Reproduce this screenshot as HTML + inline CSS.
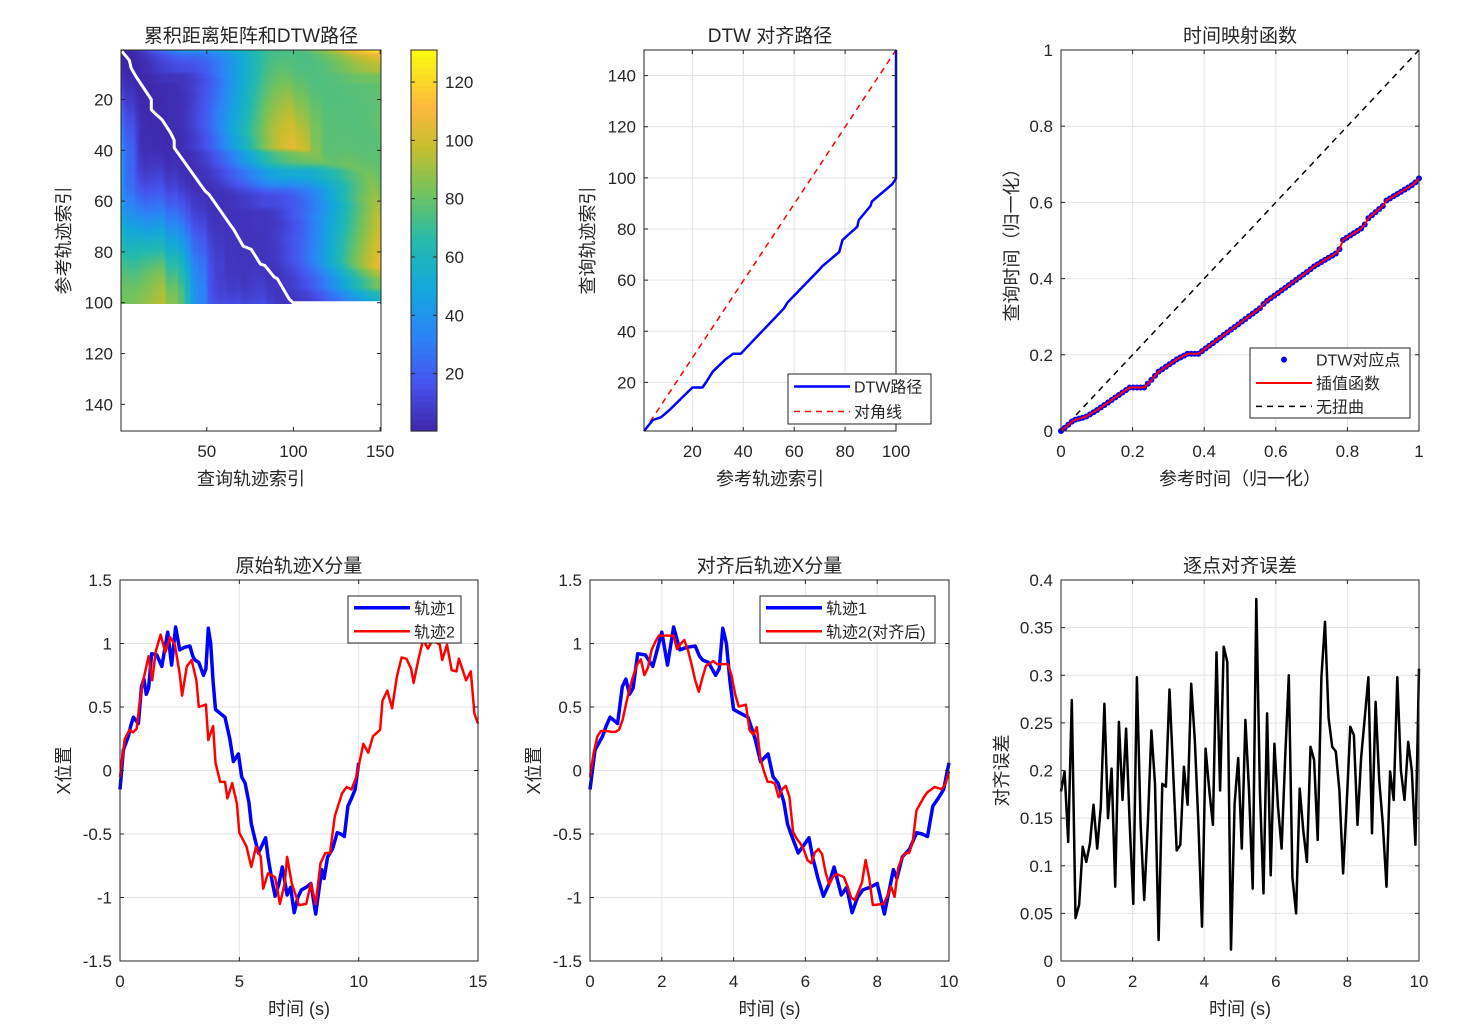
<!DOCTYPE html>
<html><head><meta charset="utf-8">
<style>
body{margin:0;background:#fff;}
#wrap{position:relative;width:1466px;height:1036px;overflow:hidden;}
svg{position:absolute;left:0;top:0;}
text{font-family:"Liberation Sans","Noto Sans CJK SC",sans-serif;fill:#262626;}
</style></head>
<body>
<div id="wrap">
<canvas id="hm" width="150" height="100" style="position:absolute;left:121px;top:50px;width:260px;height:254px;"></canvas>
<svg id="svg" width="1466" height="1036"></svg>
</div>
<script>
// ---- data ----
const traj1T=[0,0.14,0.35,0.45,0.56,0.77,0.9,1.0,1.1,1.2,1.33,1.54,1.75,1.9,2.0,2.16,2.33,2.5,2.7,2.93,3.05,3.14,3.3,3.5,3.6,3.7,3.8,3.9,4.0,4.2,4.4,4.6,4.75,4.96,5.1,5.24,5.4,5.5,5.6,5.8,6.1,6.2,6.35,6.5,6.65,6.8,7.0,7.15,7.3,7.45,7.6,7.8,8.0,8.2,8.45,8.55,8.7,8.9,9.1,9.25,9.4,9.55,9.7,9.85,10];
const traj1V=[-0.15,0.16,0.27,0.35,0.42,0.37,0.66,0.72,0.6,0.65,0.92,0.91,0.82,0.98,1.09,0.83,1.13,0.95,0.97,0.98,0.9,0.87,0.85,0.75,0.8,1.12,1.0,0.7,0.48,0.45,0.42,0.25,0.07,0.13,-0.05,-0.1,-0.25,-0.42,-0.5,-0.65,-0.53,-0.68,-0.85,-0.99,-0.9,-0.76,-0.98,-0.92,-1.12,-1.0,-0.94,-0.92,-0.89,-1.13,-0.78,-0.85,-0.68,-0.62,-0.49,-0.5,-0.52,-0.28,-0.22,-0.15,0.06];
const traj2T=[0,0.2,0.4,0.55,0.7,0.8,0.95,1.2,1.35,1.5,1.7,1.9,2.1,2.3,2.5,2.6,2.8,3.0,3.2,3.3,3.6,3.7,3.9,4.0,4.2,4.4,4.5,4.7,4.9,5.0,5.3,5.5,5.7,5.9,6.0,6.2,6.5,6.7,6.9,7.0,7.2,7.5,7.8,8.0,8.2,8.4,8.6,8.8,9.0,9.3,9.5,9.7,9.9,10.2,10.4,10.6,10.9,11.0,11.2,11.4,11.6,11.8,12.0,12.2,12.3,12.5,12.7,12.9,13.1,13.4,13.5,13.7,13.9,14.1,14.2,14.5,14.7,14.85,15];
const traj2V=[-0.05,0.25,0.32,0.3,0.33,0.5,0.69,0.9,0.71,0.94,1.07,0.93,1.05,0.99,0.76,0.59,0.82,0.87,0.71,0.5,0.52,0.24,0.35,0.06,-0.09,-0.09,-0.22,-0.1,-0.26,-0.49,-0.6,-0.76,-0.6,-0.68,-0.93,-0.81,-0.84,-1.05,-0.89,-0.68,-0.89,-1.06,-1.05,-0.89,-1.05,-0.73,-0.65,-0.65,-0.36,-0.18,-0.13,-0.15,-0.05,0.21,0.14,0.27,0.32,0.55,0.63,0.49,0.74,0.89,0.88,0.8,0.69,0.87,1.03,0.96,1.03,0.99,0.87,0.99,0.79,0.78,0.88,0.71,0.78,0.45,0.37];
const pathRef=[1,4.5,7.7,11,20,24,26,28,33,36,39,56,57.4,69.8,71,77.7,79,84.8,85.4,90,90.5,98.6,100,100];
const pathQuery=[1,5.3,6.4,9.2,18,18,21,24.2,29,31.2,31.2,49,51.3,64,65.4,71,75.7,80.9,83.5,89,90.7,97.6,99.8,150];
const errV=[0.178,0.199,0.125,0.274,0.045,0.059,0.12,0.104,0.123,0.164,0.118,0.162,0.27,0.15,0.202,0.078,0.251,0.169,0.244,0.144,0.06,0.298,0.144,0.064,0.144,0.242,0.186,0.022,0.186,0.183,0.285,0.2,0.116,0.122,0.204,0.164,0.291,0.232,0.144,0.036,0.223,0.179,0.143,0.324,0.179,0.33,0.314,0.012,0.165,0.213,0.118,0.253,0.179,0.076,0.38,0.179,0.071,0.26,0.09,0.228,0.162,0.118,0.214,0.3,0.088,0.05,0.181,0.137,0.104,0.225,0.211,0.127,0.298,0.356,0.255,0.225,0.22,0.179,0.092,0.165,0.246,0.237,0.143,0.213,0.256,0.298,0.134,0.272,0.19,0.144,0.078,0.199,0.169,0.298,0.2,0.169,0.23,0.2,0.122,0.307];
const cbTicks=[20,40,60,80,100,120];
const colorLimits=[0.3,131];
const costScale=[1.25];

const NS='http://www.w3.org/2000/svg';
const svg=document.getElementById('svg');
function el(tag,attrs,parent,name){const e=document.createElementNS(NS,tag);for(const k in attrs)e.setAttribute(k,attrs[k]);(parent||svg).appendChild(e);


return e;}
function txt(x,y,s,opt,name){opt=opt||{};const t=el('text',{x:x,y:y,'font-size':opt.size||17,'text-anchor':opt.anchor||'middle'},opt.parent,name||'label');if(opt.rot)t.setAttribute('transform','rotate(-90 '+x+' '+y+')');t.textContent=s;return t;}
function interp(xs,ys,x){if(x<=xs[0])return ys[0];for(let i=1;i<xs.length;i++){if(x<=xs[i]){const f=(x-xs[i-1])/(xs[i]-xs[i-1]||1);return ys[i-1]+f*(ys[i]-ys[i-1]);}}return ys[ys.length-1];}
function fmt(v){return String(Math.round(v*1000)/1000);}

function axes(b){
  const g=el('g',{},svg,b.name);
  b.sx=v=>b.x0+(v-b.xd[0])/(b.xd[1]-b.xd[0])*(b.x1-b.x0);
  b.sy=b.yrev?(v=>b.y0+(v-b.yd[0])/(b.yd[1]-b.yd[0])*(b.y1-b.y0)):(v=>b.y1-(v-b.yd[0])/(b.yd[1]-b.yd[0])*(b.y1-b.y0));
  if(b.grid){
    b.xt.forEach(v=>el('line',{x1:b.sx(v),x2:b.sx(v),y1:b.y0,y2:b.y1,stroke:'#e3e3e3','stroke-width':1},g,'x-grid-line'));
    b.yt.forEach(v=>el('line',{y1:b.sy(v),y2:b.sy(v),x1:b.x0,x2:b.x1,stroke:'#e3e3e3','stroke-width':1},g,'y-grid-line'));
  }
  b.g=g;b.top=el('g',{},svg,b.name+'-frame');
  return b;
}
function frame(b){
  const g=b.top;
  el('rect',{x:b.x0,y:b.y0,width:b.x1-b.x0,height:b.y1-b.y0,fill:'none',stroke:'#262626','stroke-width':1},g,'axes-box');
  b.xt.forEach(v=>{const x=b.sx(v);el('line',{x1:x,x2:x,y1:b.y1,y2:b.y1-4,stroke:'#262626'},g,'x-tick');el('line',{x1:x,x2:x,y1:b.y0,y2:b.y0+4,stroke:'#262626'},g,'x-tick');
    txt(x,b.y1+26,fmt(v),{parent:g},'x-tick-label');});
  b.yt.forEach(v=>{const y=b.sy(v);el('line',{y1:y,y2:y,x1:b.x0,x2:b.x0+4,stroke:'#262626'},g,'y-tick');el('line',{y1:y,y2:y,x1:b.x1,x2:b.x1-4,stroke:'#262626'},g,'y-tick');
    txt(b.x0-8,y+6,fmt(v),{parent:g,anchor:'end'},'y-tick-label');});
  txt((b.x0+b.x1)/2,b.y0-8,b.title,{parent:g,size:19},'axes-title');
  txt((b.x0+b.x1)/2,b.y1+54,b.xl,{parent:g,size:18},'x-axis-title');
  txt(b.ylx,(b.y0+b.y1)/2,b.yl,{parent:g,size:18,rot:true},'y-axis-title');
}
function poly(b,xs,ys,attrs,name){const p=xs.map((x,i)=>b.sx(x).toFixed(1)+','+b.sy(ys[i]).toFixed(1)).join(' ');const a=Object.assign({points:p,fill:'none','stroke-linejoin':'round'},attrs);return el('polyline',a,b.g,name);}
function legend(x,y,w,h,items){
  const g=el('g',{},svg,'legend');
  el('rect',{x:x,y:y,width:w,height:h,fill:'#fff',stroke:'#262626'},g,'legend-box');
  items.forEach((it,i)=>{const cy=y+h/(items.length)*(i+0.5);
    if(it.dot)el('circle',{cx:x+34,cy:cy,r:3,fill:it.color},g,'legend-marker');
    else el('line',{x1:x+6,x2:x+62,y1:cy,y2:cy,stroke:it.color,'stroke-width':it.w,'stroke-dasharray':it.dash||''},g,'legend-line');
    txt(x+66,cy+6,it.label,{parent:g,anchor:'start',size:16},'legend-entry');});
}

const N1=100,N2=150;
const s1=[],s2=[];
for(let i=0;i<N1;i++)s1.push(interp(traj1T,traj1V,i*10/(N1-1)));
for(let j=0;j<N2;j++)s2.push(interp(traj2T,traj2V,j*15/(N2-1)));

const D=[];
for(let i=0;i<N1;i++){D.push(new Array(N2));for(let j=0;j<N2;j++){const c=costScale[0]*Math.abs(s1[i]-s2[j]);let m;
  if(i==0&&j==0)m=0;else if(i==0)m=D[0][j-1];else if(j==0)m=D[i-1][0];else m=Math.min(D[i-1][j],D[i][j-1],D[i-1][j-1]);D[i][j]=c+m;}}
const cmin=colorLimits[0],cmax=colorLimits[1];
const par=[[0,62,38,168],[0.125,70,83,238],[0.25,44,132,247],[0.375,19,168,219],[0.5,37,186,172],[0.625,114,194,94],[0.75,200,190,45],[0.85,252,185,60],[1,249,251,14]];
function cmap(f){f=Math.max(0,Math.min(1,f));for(let k=1;k<par.length;k++){if(f<=par[k][0]){const a=par[k-1],b=par[k],t=(f-a[0])/(b[0]-a[0]);return [0,1,2].map(c=>Math.round(a[c+1]+t*(b[c+1]-a[c+1])));}}return par[par.length-1].slice(1);}
const ctx=document.getElementById('hm').getContext('2d');
const img=ctx.createImageData(N2,N1);
for(let i=0;i<N1;i++)for(let j=0;j<N2;j++){const c=cmap((D[i][j]-cmin)/(cmax-cmin));const o=(i*N2+j)*4;img.data[o]=c[0];img.data[o+1]=c[1];img.data[o+2]=c[2];img.data[o+3]=255;}
ctx.putImageData(img,0,0);

const A1=axes({name:'heatmap-axes',x0:121,x1:381,y0:50,y1:431,xd:[0.5,150.5],yd:[0.5,150.5],yrev:true,xt:[50,100,150],yt:[20,40,60,80,100,120,140],title:'累积距离矩阵和DTW路径',xl:'查询轨迹索引',yl:'参考轨迹索引',ylx:70});
poly(A1,pathQuery,pathRef,{stroke:'#fff','stroke-width':3},'dtw-path-heatmap');
frame(A1);
(function(){const g=el('g',{},svg,'colorbar');const x0=411,x1=437,y0=50,y1=431;
 for(let k=0;k<64;k++){const c=cmap((k+0.5)/64);el('rect',{x:x0,y:y1-(k+1)*(y1-y0)/64,width:x1-x0,height:(y1-y0)/64+0.6,fill:'rgb('+c.join(',')+')'},g,'colorbar-cell');}
 el('rect',{x:x0,y:y0,width:x1-x0,height:y1-y0,fill:'none',stroke:'#262626'},g,'colorbar-box');
 cbTicks.forEach(v=>{const y=y1-(v-cmin)/(cmax-cmin)*(y1-y0);if(y<y0||y>y1)return;el('line',{x1:x0,x2:x0+4,y1:y,y2:y,stroke:'#262626'},g,'colorbar-tick');el('line',{x1:x1,x2:x1-4,y1:y,y2:y,stroke:'#262626'},g,'colorbar-tick');txt(x1+8,y+6,String(v),{parent:g,anchor:'start'},'colorbar-tick-label');});
})();

const A2=axes({name:'path-axes',x0:644,x1:896,y0:50,y1:431,xd:[1,100],yd:[1,150],grid:true,xt:[20,40,60,80,100],yt:[20,40,60,80,100,120,140],title:'DTW 对齐路径',xl:'参考轨迹索引',yl:'查询轨迹索引',ylx:594});
poly(A2,[1,100],[1,150],{stroke:'#ff0000','stroke-width':1.5,'stroke-dasharray':'6,5'},'diagonal-line');
poly(A2,pathRef,pathQuery,{stroke:'#0000ff','stroke-width':2.5},'dtw-path-line');
frame(A2);
legend(788,374,143,50,[{label:'DTW路径',color:'#0000ff',w:2.5},{label:'对角线',color:'#ff0000',w:1.5,dash:'6,5'}]);

const A3=axes({name:'time-map-axes',x0:1061,x1:1419,y0:50,y1:431,xd:[0,1],yd:[0,1],grid:true,xt:[0,0.2,0.4,0.6,0.8,1],yt:[0,0.2,0.4,0.6,0.8,1],title:'时间映射函数',xl:'参考时间（归一化）',yl:'查询时间（归一化）',ylx:1018});
const mapX=[],mapY=[];
const pR=pathRef.slice(0,-1),pQ=pathQuery.slice(0,-1);
for(let i=1;i<=N1;i++){mapX.push((i-1)/(N1-1));mapY.push((interp(pR,pQ,i)-1)/(N2-1));}
poly(A3,[0,1],[0,1],{stroke:'#000','stroke-width':1.5,'stroke-dasharray':'6,5'},'no-warp-line');
mapX.forEach((x,i)=>el('circle',{cx:A3.sx(x),cy:A3.sy(mapY[i]),r:3,fill:'#0000ff'},A3.g,'dtw-point'));
poly(A3,mapX,mapY,{stroke:'#ff0000','stroke-width':2},'interp-line');
frame(A3);
legend(1250,348,160,70,[{label:'DTW对应点',color:'#0000ff',dot:true},{label:'插值函数',color:'#ff0000',w:2},{label:'无扭曲',color:'#000',w:1.5,dash:'6,5'}]);

const A4=axes({name:'original-axes',x0:120,x1:478,y0:580,y1:961,xd:[0,15],yd:[-1.5,1.5],grid:true,xt:[0,5,10,15],yt:[-1.5,-1,-0.5,0,0.5,1,1.5],title:'原始轨迹X分量',xl:'时间 (s)',yl:'X位置',ylx:70});
poly(A4,traj1T,traj1V,{stroke:'#0000ff','stroke-width':3.5},'trajectory-1-line');
poly(A4,traj2T,traj2V,{stroke:'#ff0000','stroke-width':2.5},'trajectory-2-line');
frame(A4);
legend(348,596,113,47,[{label:'轨迹1',color:'#0000ff',w:3.5},{label:'轨迹2',color:'#ff0000',w:2.5}]);

const A5=axes({name:'aligned-axes',x0:590,x1:949,y0:580,y1:961,xd:[0,10],yd:[-1.5,1.5],grid:true,xt:[0,2,4,6,8,10],yt:[-1.5,-1,-0.5,0,0.5,1,1.5],title:'对齐后轨迹X分量',xl:'时间 (s)',yl:'X位置',ylx:540});
const alT=[],alV=[];
for(let i=1;i<=N1;i++){alT.push((i-1)*10/(N1-1));const q=interp(pR,pQ,i);alV.push(interp(traj2T,traj2V,(q-1)*15/(N2-1)));}
poly(A5,traj1T,traj1V,{stroke:'#0000ff','stroke-width':3.5},'trajectory-1-line');
poly(A5,alT,alV,{stroke:'#ff0000','stroke-width':2.5},'aligned-trajectory-2-line');
frame(A5);
legend(760,596,175,47,[{label:'轨迹1',color:'#0000ff',w:3.5},{label:'轨迹2(对齐后)',color:'#ff0000',w:2.5}]);

const A6=axes({name:'error-axes',x0:1061,x1:1419,y0:580,y1:961,xd:[0,10],yd:[0,0.4],grid:true,xt:[0,2,4,6,8,10],yt:[0,0.05,0.1,0.15,0.2,0.25,0.3,0.35,0.4],title:'逐点对齐误差',xl:'时间 (s)',yl:'对齐误差',ylx:1008});
const errT=errV.map((v,i)=>i*10/(errV.length-1));
poly(A6,errT,errV,{stroke:'#000','stroke-width':2.5},'error-line');
frame(A6);
</script>
</body></html>
